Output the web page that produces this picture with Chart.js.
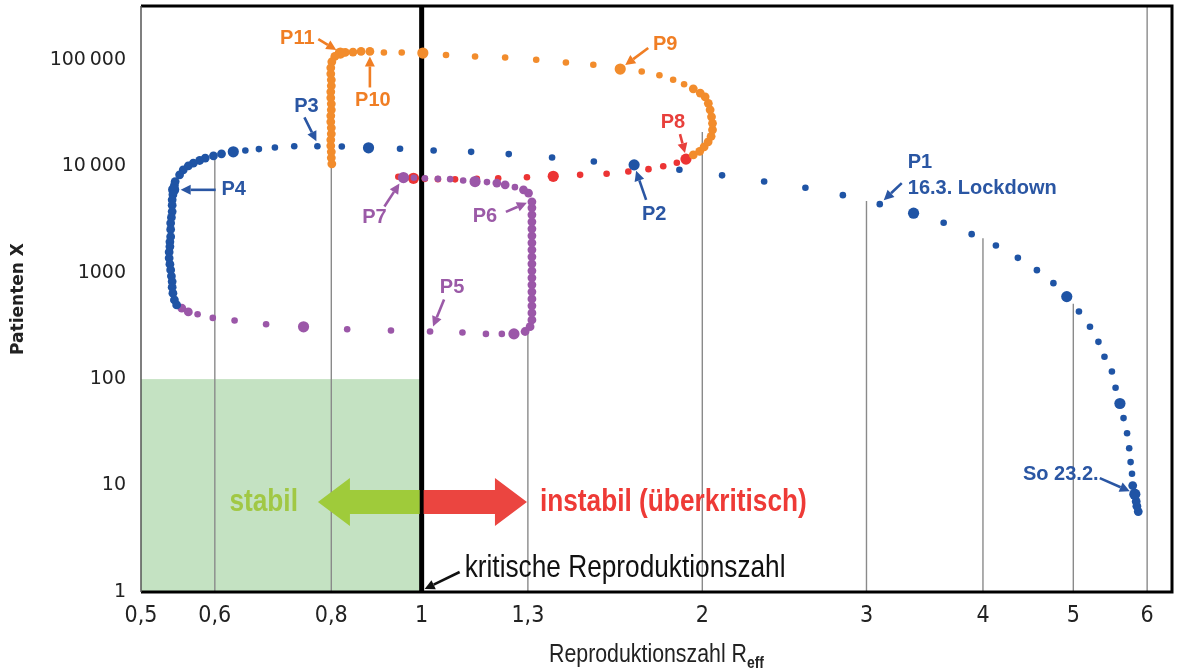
<!DOCTYPE html>
<html>
<head>
<meta charset="utf-8">
<script src="https://cdn.jsdelivr.net/npm/chart.js@4.4.1/dist/chart.umd.min.js"></script>
<style>
  html, body { margin: 0; padding: 0; background: #fff; }
  canvas { display: block; }
</style>
</head>
<body>
<canvas id="chart" width="1178" height="669"></canvas>
<script>
// Achsen
const xTicks = [0.5, 0.6, 0.8, 1, 1.3, 2, 3, 4, 5, 6];
const xTickLabels = ['0,5', '0,6', '0,8', '1', '1,3', '2', '3', '4', '5', '6'];
const yTicks = [1, 10, 100, 1000, 10000, 100000];
const yTickLabels = ['1', '10', '100', '1000', '10\u2009000', '100\u2009000'];

// blau: So 23.2. -> P1 -> P2 -> P3 -> P4
const blueR = [5.87, 5.85, 5.84, 5.82, 5.79, 5.78, 5.76, 5.74, 5.71, 5.66, 5.61, 5.55, 5.50, 5.40, 5.32, 5.21, 5.07, 4.92, 4.76, 4.57,
  4.36, 4.13, 3.89, 3.63, 3.37, 3.10, 2.83, 2.58, 2.33, 2.10, 1.89, 1.69, 1.53, 1.38, 1.24, 1.13, 1.03, 0.948, 0.877, 0.821,
  0.773, 0.730, 0.696, 0.669, 0.647, 0.628, 0.610, 0.598, 0.586, 0.578, 0.569, 0.562, 0.555, 0.550, 0.544, 0.543, 0.542, 0.541, 0.540, 0.540,
  0.540, 0.539, 0.538, 0.538, 0.538, 0.537, 0.537, 0.536, 0.536, 0.537, 0.538, 0.539, 0.540, 0.540, 0.541, 0.543, 0.546];
const blueX = [5.7, 6.4, 7.1, 8.3, 10, 12.9, 16.6, 22.4, 31, 43, 59, 83, 118, 162, 224, 310, 431, 596, 797, 1056,
  1377, 1800, 2300, 2940, 3620, 4400, 5350, 6270, 7180, 8210, 9250, 10300, 11070, 12070, 12990, 13650, 14050, 14570, 14890, 15320,
  15380, 15380, 14990, 14480, 14050, 13650, 13080, 12520, 11920, 11320, 10690, 10090, 9250, 8300, 7180, 6600, 6000, 5400, 4830, 4300,
  3750, 3300, 2920, 2550, 2180, 1950, 1760, 1560, 1370, 1200, 1060, 930, 825, 730, 642, 555, 498];

// lila: P4 -> P5 -> P6 -> P7
const purpleR = [0.553, 0.562, 0.575, 0.597, 0.630, 0.681, 0.747, 0.832, 0.927, 1.021, 1.106, 1.172, 1.219, 1.256, 1.291, 1.307,
  1.313, 1.313, 1.313, 1.313, 1.313, 1.313, 1.313, 1.313, 1.313, 1.313, 1.313, 1.313, 1.313, 1.313, 1.313, 1.313, 1.313, 1.313,
  1.302, 1.286, 1.259, 1.229, 1.204, 1.175, 1.141, 1.108, 1.073, 1.041, 1.008, 0.981, 0.956];
const purpleX = [464, 428, 407, 376, 355, 328, 310, 294, 286, 280, 274, 266, 266, 266, 280, 311,
  360, 419, 488, 567, 660, 768, 894, 1040, 1210, 1408, 1638, 1906, 2218, 2580, 3002, 3493, 4064, 4628,
  5590, 6000, 6360, 6690, 6940, 7090, 7180, 7340, 7560, 7610, 7700, 7780, 7830];

// rot: P7 -> P8
const redR = [0.944, 0.980, 1.008, 1.041, 1.086, 1.146, 1.208, 1.297, 1.384, 1.479, 1.579, 1.666, 1.751, 1.816, 1.878, 1.921];
const redX = [7950, 7700, 7610, 7560, 7530, 7610, 7700, 7870, 8040, 8300, 8490, 8920, 9390, 9980, 10770, 11660];

// orange: P8 -> P9 -> P10 -> P11 -> runter bei 0,8
const orangeR = [1.956, 1.987, 2.009, 2.029, 2.044, 2.051, 2.051, 2.046, 2.039, 2.030, 2.014, 1.990, 1.956, 1.912, 1.861, 1.799,
  1.722, 1.633, 1.528, 1.428, 1.327, 1.229, 1.141, 1.062, 1.003, 0.952, 0.911, 0.880, 0.861, 0.844, 0.828, 0.818, 0.807, 0.801,
  0.799, 0.799, 0.800, 0.800, 0.799, 0.799, 0.800, 0.800, 0.799, 0.799, 0.800, 0.800, 0.799, 0.799, 0.800, 0.800, 0.801];
const orangeX = [12800, 13800, 15220, 16960, 19100, 21990, 25310, 29130, 33900, 39020, 44910, 48660, 53390, 58860, 64860, 71510,
  77620, 81770, 89750, 94330, 100000, 105100, 107400, 110700, 115600, 117100, 117100, 119700, 119700, 118100, 117100, 115600, 107400, 95770,
  84090, 73860, 64860, 56970, 50030, 43950, 38600, 33900, 29770, 26150, 22960, 20170, 17710, 15550, 13650, 11990, 10530];

// senkrechte Hilfslinien bei R = ..., bis zur Kurve
const dropR = [0.6, 0.8, 1.3, 2, 3, 4, 5, 6];
const dropTop = [12500, 10300, 290, 21000, 4700, 2100, 510, 320000];

// gruener Bereich: stabil
const stableR = [0.5, 1];
const stableX = [1, 100];

const blueBig = [3, 10, 17, 24, 31, 38, 45, 56];
const purpleBig = [6, 13, 40, 46];
const redBig = [1, 8, 15];
const orangeBig = [17, 24, 31];

const BLUE = '#1f54a5', PURPLE = '#9b57a8', RED = '#ec3434', ORANGE = '#f28c2c';
const CONDENSED = '"DejaVu Sans Condensed", "Liberation Sans", sans-serif';
const ARIAL = '"Liberation Sans", Arial, sans-serif';

const toPoints = (rs, xs) => rs.map((r, i) => ({ x: r, y: xs[i] }));

function dotRadius(big) {
  return c => {
    if (big.includes(c.dataIndex)) return 5.6;
    const d = c.dataset.data, i = c.dataIndex;
    const sx = c.chart.scales.x, sy = c.chart.scales.y;
    if (!sx || !sy || !d[i]) return 3.3;
    let near = 99;
    [i - 1, i + 1].forEach(j => {
      if (!d[j]) return;
      const dx = sx.getPixelForValue(d[j].x) - sx.getPixelForValue(d[i].x);
      const dy = sy.getPixelForValue(d[j].y) - sy.getPixelForValue(d[i].y);
      near = Math.min(near, Math.hypot(dx, dy));
    });
    return near < 9 ? 4.4 : 3.3;
  };
}

function series(rs, xs, color, big, order) {
  return {
    type: 'scatter', data: toPoints(rs, xs), showLine: false,
    backgroundColor: color, borderWidth: 0,
    pointRadius: dotRadius(big), order: order
  };
}

const dropSets = dropR.map((r, i) => ({
  type: 'line', data: [{ x: r, y: 1 }, { x: r, y: dropTop[i] }],
  borderColor: '#8a8a8a', borderWidth: 1.4, pointRadius: 0, order: 20
}));

const critLine = {
  type: 'line', data: [{ x: 1, y: 1 }, { x: 1, y: 320000 }],
  borderColor: '#000', borderWidth: 5, pointRadius: 0, order: 15
};

// Beschriftungen mit Pfeil: Ziel in Datenkoordinaten, Text und Pfeil als Pixelversatz
const callouts = [
  { lines: ['P11'], color: '#f07e24', r: 0.818, v: 115600, tx: -43, ty: -15, ax: -22, ay: -14, bx: -4, by: -3 },
  { lines: ['P10'], color: '#f07e24', r: 0.880, v: 119700, tx: 3, ty: 49, ax: 0, ay: 36, bx: 0, by: 5 },
  { lines: ['P9'], color: '#f07e24', r: 1.633, v: 81770, tx: 45, ty: -25, ax: 28, ay: -21, bx: 5, by: -4 },
  { lines: ['P8'], color: '#e8403c', r: 1.921, v: 11660, tx: -13, ty: -37, ax: -6, ay: -25, bx: -1, by: -6 },
  { lines: ['P3'], color: '#2a56a3', r: 0.773, v: 15380, tx: -11, ty: -40, ax: -13, ay: -29, bx: -1, by: -5 },
  { lines: ['P4'], color: '#2a56a3', r: 0.542, v: 6000, tx: 60, ty: 0, ax: 42, ay: 0, bx: 7, by: 0 },
  { lines: ['P7'], color: '#9b5aa7', r: 0.956, v: 7830, tx: -29, ty: 40, ax: -19, ay: 29, bx: -4, by: 6 },
  { lines: ['P6'], color: '#9b5aa7', r: 1.313, v: 4628, tx: -47, ty: 15, ax: -26, ay: 10, bx: -5, by: 1 },
  { lines: ['P5'], color: '#9b5aa7', r: 1.021, v: 280, tx: 22, ty: -44, ax: 14, ay: -32, bx: 3, by: -5 },
  { lines: ['P2'], color: '#2a56a3', r: 1.69, v: 10300, tx: 20, ty: 50, ax: 12, ay: 35, bx: 2, by: 6 },
  { lines: ['P1', '16.3. Lockdown'], color: '#2a56a3', r: 3.10, v: 4400, tx: 28, ty: -42, ax: 22, ay: -21, bx: 4, by: -4, align: 'left' },
  { lines: ['So 23.2.'], color: '#2a56a3', r: 5.82, v: 8.3, tx: -74, ty: -20, ax: -35, ay: -16, bx: -5, by: -3 },
  { lines: ['kritische Reproduktionszahl'], color: '#111', r: 1, v: 1, tx: 43, ty: -24, ax: 38, ay: -20, bx: 3, by: -3,
    align: 'left', font: '32px ' + ARIAL, squeeze: 0.82 }
];

// Text schmal zeichnen (wie Arial Narrow)
function squeezeText(ctx, text, x, y, font, align, k) {
  ctx.save();
  ctx.font = font;
  ctx.textAlign = align;
  ctx.translate(x, y);
  ctx.scale(k, 1);
  ctx.fillText(text, 0, 0);
  ctx.restore();
}

function arrowLine(ctx, x0, y0, x1, y1, color, w, len, half) {
  const a = Math.atan2(y1 - y0, x1 - x0);
  const bx = x1 - Math.cos(a) * len, by = y1 - Math.sin(a) * len;
  ctx.strokeStyle = color; ctx.fillStyle = color; ctx.lineWidth = w;
  ctx.beginPath(); ctx.moveTo(x0, y0); ctx.lineTo(bx, by); ctx.stroke();
  ctx.beginPath();
  ctx.moveTo(x1, y1);
  ctx.lineTo(bx + Math.sin(a) * half, by - Math.cos(a) * half);
  ctx.lineTo(bx - Math.sin(a) * half, by + Math.cos(a) * half);
  ctx.closePath(); ctx.fill();
}

function blockArrow(ctx, xb, xt, yc, shaft, head, headL, color) {
  const dir = xt < xb ? -1 : 1, xh = xt - dir * headL;
  ctx.fillStyle = color;
  ctx.beginPath();
  ctx.moveTo(xb, yc - shaft); ctx.lineTo(xh, yc - shaft); ctx.lineTo(xh, yc - head);
  ctx.lineTo(xt, yc); ctx.lineTo(xh, yc + head); ctx.lineTo(xh, yc + shaft); ctx.lineTo(xb, yc + shaft);
  ctx.closePath(); ctx.fill();
}

const overlay = {
  id: 'overlay',
  beforeDatasetsDraw(chart) {
    const { ctx, scales: { x, y } } = chart;
    const l = x.getPixelForValue(stableR[0]), r = x.getPixelForValue(stableR[1]);
    const t = y.getPixelForValue(stableX[1]), b = y.getPixelForValue(stableX[0]);
    ctx.save();
    ctx.fillStyle = '#c4e2c2';
    ctx.fillRect(l, t, r - l, b - t);
    ctx.restore();
  },
  afterDatasetsDraw(chart) {
    const { ctx, chartArea: a, scales: { x, y } } = chart;
    ctx.save();

    // stabil / instabil
    const x1 = x.getPixelForValue(1), yc = y.getPixelForValue(7);
    const gTip = x.getPixelForValue(0.774), rTip = x.getPixelForValue(1.297);
    blockArrow(ctx, x1 - 2, gTip, yc, 12, 24, 32, '#9fcb3a');
    blockArrow(ctx, x1 + 2, rTip, yc, 12, 24, 32, '#eb4540');
    ctx.textBaseline = 'middle';
    ctx.fillStyle = '#a1c844';
    squeezeText(ctx, 'stabil', gTip - 20, yc, 'bold 32px ' + ARIAL, 'right', 0.82);
    ctx.fillStyle = '#ee3a36';
    squeezeText(ctx, 'instabil (\u00fcberkritisch)', rTip + 13, yc, 'bold 32px ' + ARIAL, 'left', 0.82);

    // Beschriftungen P1..P11
    callouts.forEach(c => {
      const px = x.getPixelForValue(c.r), py = y.getPixelForValue(c.v);
      arrowLine(ctx, px + c.ax, py + c.ay, px + c.bx, py + c.by, c.color, 2.6, 10, 5);
      ctx.fillStyle = c.color;
      ctx.textBaseline = 'middle';
      c.lines.forEach((t, k) => squeezeText(ctx, t, px + c.tx, py + c.ty + k * 26,
        c.font || 'bold 20px ' + ARIAL, c.align || 'center', c.squeeze || 1));
    });

    // Rahmen
    ctx.strokeStyle = '#000';
    ctx.lineWidth = 3;
    ctx.beginPath();
    ctx.moveTo(a.left, a.top); ctx.lineTo(a.right, a.top); ctx.lineTo(a.right, a.bottom); ctx.lineTo(a.left, a.bottom);
    ctx.stroke();
    ctx.strokeStyle = '#555'; ctx.lineWidth = 1.5;
    ctx.beginPath(); ctx.moveTo(a.left, a.top); ctx.lineTo(a.left, a.bottom); ctx.stroke();

    // x-Achsentitel mit Index
    const main = 'Reproduktionszahl R', sub = 'eff', k = 0.82;
    const fMain = '26px ' + ARIAL, fSub = 'bold 17px ' + ARIAL;
    ctx.font = fMain; const wm = ctx.measureText(main).width * k;
    ctx.font = fSub; const ws = ctx.measureText(sub).width * k;
    const sx0 = (a.left + a.right) / 2 - (wm + ws) / 2;
    ctx.fillStyle = '#222'; ctx.textBaseline = 'alphabetic';
    squeezeText(ctx, main, sx0, 662, fMain, 'left', k);
    squeezeText(ctx, sub, sx0 + wm, 668, fSub, 'left', k);
    ctx.restore();
  }
};

new Chart(document.getElementById('chart'), {
  data: {
    datasets: [
      series(orangeR, orangeX, ORANGE, orangeBig, 1),
      series(blueR, blueX, BLUE, blueBig, 2),
      series(purpleR, purpleX, PURPLE, purpleBig, 3),
      series(redR, redX, RED, redBig, 4),
      critLine,
      ...dropSets
    ]
  },
  options: {
    responsive: false,
    animation: false,
    layout: { padding: { top: 6, right: 6, left: 0, bottom: 0 } },
    plugins: { legend: { display: false }, tooltip: { enabled: false } },
    scales: {
      x: {
        type: 'logarithmic', min: 0.5, max: 6.38,
        afterBuildTicks: s => { s.ticks = xTicks.map(v => ({ value: v })); },
        afterFit: s => { s.height = 77; s.paddingLeft = 0; s.paddingRight = 0; },
        grid: { display: false, drawTicks: false },
        border: { display: false },
        ticks: {
          autoSkip: false, maxRotation: 0, padding: 10, color: '#222',
          font: { family: CONDENSED, size: 23 },
          callback: v => xTickLabels[xTicks.indexOf(v)]
        }
      },
      y: {
        type: 'logarithmic', min: 1, max: 320000,
        afterBuildTicks: s => { s.ticks = yTicks.map(v => ({ value: v })); },
        afterFit: s => { s.width = 141; s.paddingTop = 0; s.paddingBottom = 0; },
        grid: { display: false, drawTicks: false },
        border: { display: false },
        ticks: {
          padding: 15, color: '#222',
          font: { family: '"DejaVu Sans", sans-serif', size: 19 },
          callback: v => yTickLabels[yTicks.indexOf(v)]
        },
        title: {
          display: true, text: 'Patienten X', color: '#222',
          font: { family: '"DejaVu Sans", sans-serif', size: 17, weight: 'bold' },
          padding: { top: 8, bottom: 0 }
        }
      }
    }
  },
  plugins: [overlay]
});
</script>
</body>
</html>
